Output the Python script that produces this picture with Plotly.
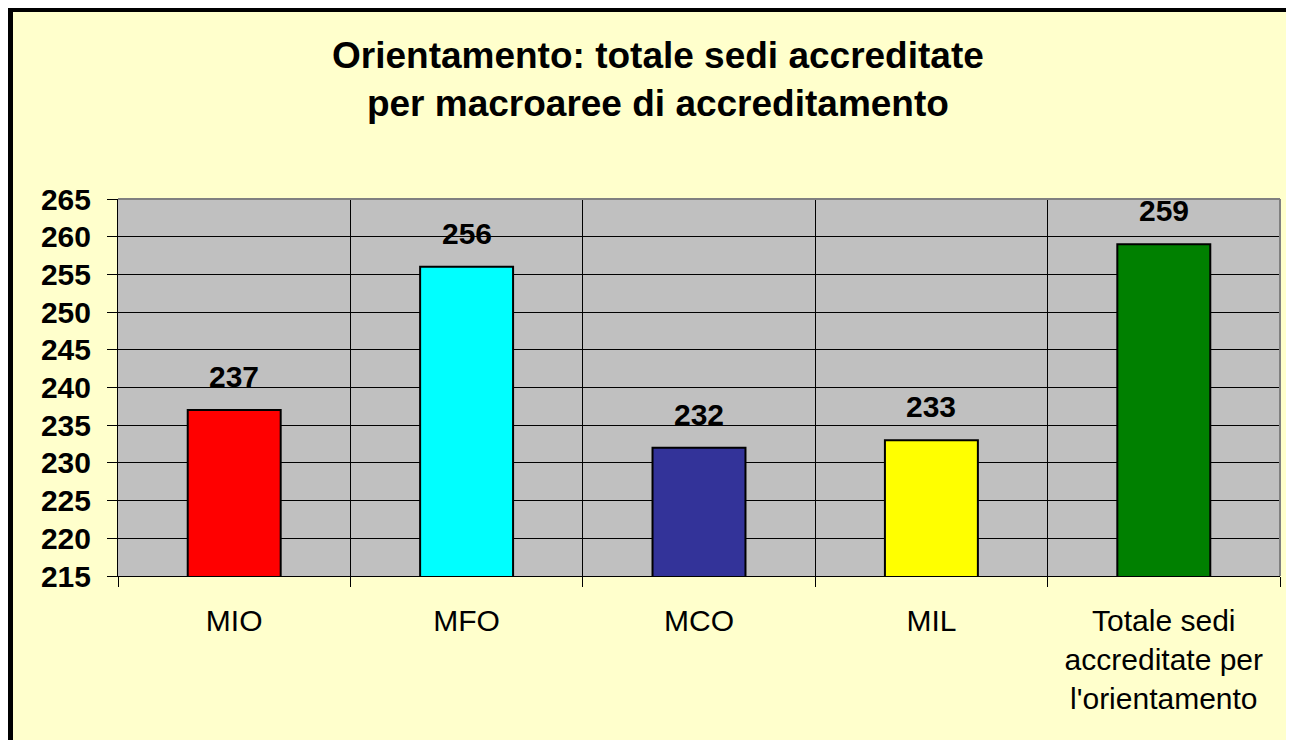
import plotly.graph_objects as go

categories = ["MIO", "MFO", "MCO", "MIL", "Totale sedi<br>accreditate per<br>l'orientamento"]
values = [237, 256, 232, 233, 259]
bar_colors = ["#FF0000", "#00FFFF", "#333399", "#FFFF00", "#008000"]
y_ticks = list(range(215, 266, 5))
title_lines = ["Orientamento: totale sedi accreditate", "per macroaree di accreditamento"]

# page body has an 8px margin; figure coordinates = reference coordinates - 8
OFF = 8
W, H = 1294 - OFF, 740 - OFF
L, R, T, B = 118 - OFF, 14, 199 - OFF, 164
PW, PH = W - L - R, H - T - B

def px(x):  # reference-page pixel -> paper
    return (x - OFF - L) / PW

def py(y):
    return (H - B - (y - OFF)) / PH

FONT = "Liberation Sans, Arial, sans-serif"
xpos = [i + 0.5 for i in range(len(categories))]

fig = go.Figure()
fig.add_trace(go.Bar(
    x=xpos, y=values, width=0.4,
    marker=dict(color=bar_colors, line=dict(color="black", width=2)),
    hoverinfo="skip",
))

for xv, v in zip(xpos, values):
    fig.add_annotation(x=xv, y=v, text=f"<b>{v}</b>", showarrow=False,
                       yanchor="bottom", yshift=15,
                       font=dict(family=FONT, size=30, color="black"))

fig.add_annotation(xref="paper", yref="paper", x=px(658), y=py(80),
                   text="<b>" + "<br>".join(title_lines) + "</b>", showarrow=False,
                   xanchor="center", yanchor="middle", align="center",
                   font=dict(family=FONT, size=37, color="black"))

shapes = [
    # black frame (left and top)
    dict(type="rect", xref="paper", yref="paper", x0=px(8), x1=px(13), y0=py(760), y1=py(7),
         fillcolor="black", line=dict(width=0), layer="above"),
    dict(type="rect", xref="paper", yref="paper", x0=px(8), x1=px(1310), y0=py(12), y1=py(7),
         fillcolor="black", line=dict(width=0), layer="above"),
    # plot-area top/right edges
    dict(type="line", xref="paper", yref="paper", x0=0, x1=1, y0=1, y1=1,
         line=dict(color="#808080", width=2), layer="above"),
    dict(type="line", xref="paper", yref="paper", x0=1, x1=1, y0=0, y1=1,
         line=dict(color="#808080", width=2), layer="above"),
]

fig.update_layout(
    width=W, height=H,
    margin=dict(l=L, r=R, t=T, b=B, pad=0),
    paper_bgcolor="#FFFFCC",
    plot_bgcolor="#C0C0C0",
    showlegend=False,
    shapes=shapes,
    xaxis=dict(
        range=[0, 5], tickmode="array", tickvals=xpos, ticktext=categories,
        ticks="", showgrid=False, zeroline=False,
        showline=True, linecolor="black", linewidth=1,
        tickfont=dict(family=FONT, size=30, color="black"),
        ticklabelstandoff=18,
        minor=dict(tickmode="array", tickvals=[0, 1, 2, 3, 4, 5], ticks="outside",
                   ticklen=10, tickcolor="black", tickwidth=1,
                   showgrid=True, gridcolor="black", gridwidth=1),
        fixedrange=True,
    ),
    yaxis=dict(
        range=[215, 265], tickmode="array", tickvals=y_ticks,
        ticks="outside", ticklen=10, tickcolor="black", tickwidth=1,
        showgrid=True, gridcolor="black", gridwidth=1, zeroline=False,
        showline=True, linecolor="black", linewidth=1,
        tickfont=dict(family=FONT, size=30, color="black", weight="bold"),
        ticklabelstandoff=10,
        fixedrange=True,
    ),
)

fig.write_html("out.html")
